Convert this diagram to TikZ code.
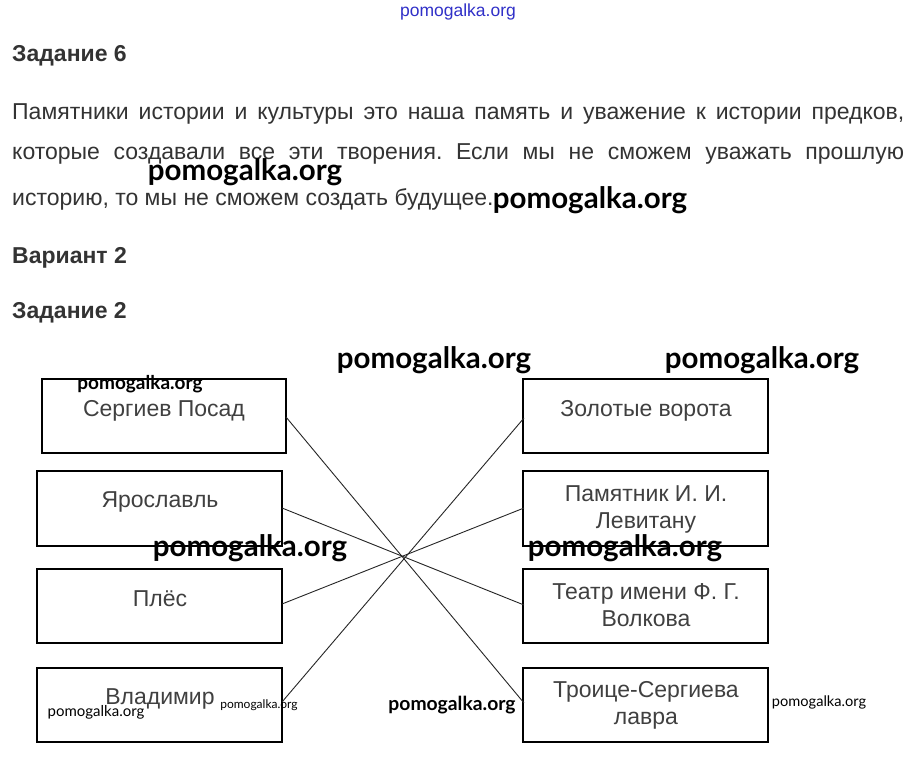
\documentclass[tikz,border=0pt]{standalone}
\usepackage{fontspec}
\setmainfont{Liberation Sans}
\newfontfamily\latofont{Lato}
\definecolor{txt}{HTML}{333333}
\definecolor{boxtxt}{HTML}{404040}
\definecolor{wmblue}{HTML}{3030C8}
\tikzset{
  head/.style={anchor=base west, inner sep=0pt, font=\fontsize{23}{23}\selectfont\bfseries, text=txt},
  body/.style={anchor=base west, inner sep=0pt, font=\fontsize{23}{23}\selectfont\frenchspacing, text=txt},
  frame/.style={draw=black, line width=1.8pt, fill=none},
  lbl/.style={anchor=base, inner sep=0pt, font=\fontsize{23}{23}\selectfont, text=boxtxt},
  link/.style={draw=black!85, line width=0.9pt},
  wmbig/.style={inner sep=0pt, font=\latofont\fontsize{29.5}{29.5}\selectfont\bfseries, text=black},
  wm/.style={inner sep=0pt, font=\latofont\fontsize{#1}{#1}\selectfont, text=black},
  wmb/.style={inner sep=0pt, font=\latofont\fontsize{#1}{#1}\selectfont\bfseries, text=black}
}
\begin{document}
\begin{tikzpicture}[x=1pt,y=-1pt]
\useasboundingbox[fill=white] (0,0) rectangle (914,760);
% top blue watermark
\node[inner sep=0pt, font=\fontsize{17.5}{17.5}\selectfont, text=wmblue] (wtop) at (458,12) {pomogalka.org};
% headings and paragraph
\node[head] (h1) at (12,62) {Задание 6};
\node[body] (p1) at (12,120) {\makebox[892pt][s]{Памятники истории и культуры это наша память и уважение к истории предков,}};
\node[body] (p2) at (12,159) {\makebox[892pt][s]{которые создавали все эти творения. Если мы не сможем уважать прошлую}};
\node[body] (p3) at (12,205) {историю, то мы не сможем создать будущее.};
\node[head] (h2) at (12,263) {Вариант 2};
\node[head] (h3) at (12,318) {Задание 2};
% boxes left
\draw[frame] (42,379) rectangle (286,453);
\draw[frame] (37,471) rectangle (282,546);
\draw[frame] (37,569) rectangle (282,643);
\draw[frame] (37,668) rectangle (282,742);
% boxes right
\draw[frame] (523,379) rectangle (768,453);
\draw[frame] (523,471) rectangle (768,546);
\draw[frame] (523,569) rectangle (768,643);
\draw[frame] (523,668) rectangle (768,742);
% anchor coordinates on box edges
\coordinate (sp) at (286,417);
\coordinate (ya) at (282,508);
\coordinate (pl) at (282,604);
\coordinate (vl) at (282,702);
\coordinate (zv) at (524,418);
\coordinate (pm) at (524,508);
\coordinate (tv) at (524,605);
\coordinate (tl) at (524,703);
% connectors
\draw[link] (sp) -- (tl);
\draw[link] (ya) -- (tv);
\draw[link] (pl) -- (pm);
\draw[link] (vl) -- (zv);
% labels
\node[lbl] (l1) at (164,416) {Сергиев Посад};
\node[lbl] (l2) at (160,507) {Ярославль};
\node[lbl] (l3) at (160,606) {Плёс};
\node[lbl] (l4) at (160,704) {Владимир};
\node[lbl] (r1) at (646,416) {Золотые ворота};
\node[lbl] (r2a) at (646,501) {Памятник И. И.};
\node[lbl] (r2b) at (646,528) {Левитану};
\node[lbl] (r3a) at (646,599) {Театр имени Ф. Г.};
\node[lbl] (r3b) at (646,626) {Волкова};
\node[lbl] (r4a) at (646,697) {Троице-Сергиева};
\node[lbl] (r4b) at (646,724) {лавра};
% watermarks
\node[wmbig] (w1) at (245,172) {pomogalka.org};
\node[wmbig] (w2) at (590,200) {pomogalka.org};
\node[wmbig] (w3) at (434,360) {pomogalka.org};
\node[wmbig] (w4) at (762,360) {pomogalka.org};
\node[wmb=19] (w5) at (140,384) {pomogalka.org};
\node[wmbig] (w6) at (250,548) {pomogalka.org};
\node[wmbig] (w7) at (625,548) {pomogalka.org};
\node[wm=15] (w8) at (96,712) {pomogalka.org};
\node[wm=12] (w9) at (259,705) {pomogalka.org};
\node[wmb=19.3] (w10) at (452,705) {pomogalka.org};
\node[wm=14.6] (w11) at (819,702) {pomogalka.org};
\end{tikzpicture}
\end{document}
